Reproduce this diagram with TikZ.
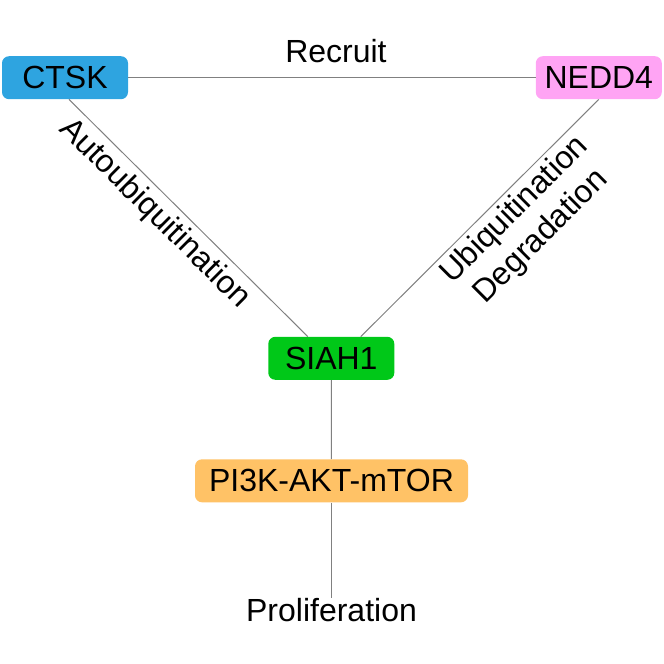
\documentclass[tikz,border=0pt]{standalone}
\usepackage{fontspec}
\setmainfont{Liberation Sans}
\usetikzlibrary{positioning}
\definecolor{ctskblue}{HTML}{2EA4E0}
\definecolor{neddpink}{HTML}{FFA4F4}
\definecolor{siahgreen}{HTML}{00C818}
\definecolor{pathorange}{HTML}{FFC266}
\definecolor{linkgray}{HTML}{808080}
\tikzset{
  protein/.style={rounded corners=7pt,minimum width=126pt,minimum height=43pt,inner sep=0pt,font=\fontsize{32}{36}\selectfont},
  link/.style={linkgray,line width=1pt},
  edgelabel/.style={text=black,font=\fontsize{32}{37.5}\selectfont,inner sep=3pt,align=center}
}

\begin{document}
\begin{tikzpicture}[x=1pt,y=1pt]
\useasboundingbox (0,0) rectangle (664,-664);
% proteins
\node[protein,fill=ctskblue] (ctsk) at (65,-77.7) {CTSK};
\node[protein,fill=neddpink] (nedd4) at (598.8,-77.7) {NEDD4};
\node[protein,fill=siahgreen] (siah1) at (331.3,-358.3) {SIAH1};
\node[protein,fill=pathorange,minimum width=273pt] (pi3k) at (331.5,-480.8) {PI3K-AKT-mTOR};
\node[edgelabel,inner sep=0pt,anchor=north] (prolif) at (331.5,-598) {Proliferation};
% links
\draw[link] (ctsk) -- (nedd4) node[edgelabel,pos=0.51,above=11pt] {Recruit};
\draw[link] ([xshift=4pt]ctsk.south) -- ([xshift=-23.5pt]siah1.north)
  node[edgelabel,pos=0.42,sloped,below,inner sep=5.5pt] {Autoubiquitination};
\draw[link] ([xshift=29.5pt]siah1.north) -- (nedd4.south)
  node[edgelabel,pos=0.59,sloped,below,inner sep=4pt] {Ubiquitination\\Degradation};
\draw[link] (siah1) -- (pi3k);
\draw[link] (pi3k) -- (prolif);
\end{tikzpicture}
\end{document}
